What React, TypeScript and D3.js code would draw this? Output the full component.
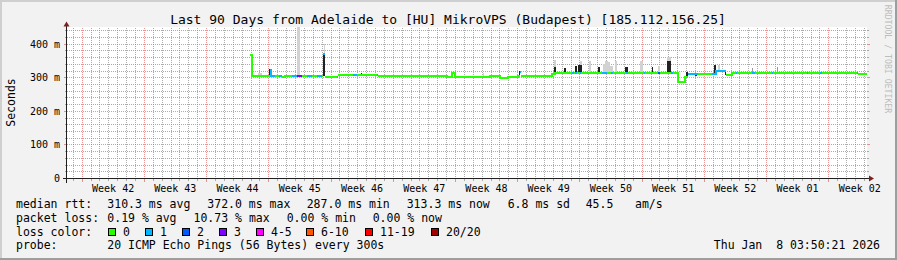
import React from 'react';
import * as d3 from 'd3';

// ---------- data ----------
const title = 'Last 90 Days from Adelaide to [HU] MikroVPS (Budapest) [185.112.156.25]';
const yAxisTitle = 'Seconds';
const watermark = 'RRDTOOL / TOBI OETIKER';
const spanDays = 90;
const yMax = 450;
const yTickValues = [0, 100, 200, 300, 400];
const yTickLabels = ['0', '100 m', '200 m', '300 m', '400 m'];
const firstWeekDay = 1.7; // days after graph start of first week boundary
const weekLabels = ['Week 42', 'Week 43', 'Week 44', 'Week 45', 'Week 46', 'Week 47', 'Week 48', 'Week 49', 'Week 50', 'Week 51', 'Week 52', 'Week 01', 'Week 02'];

// median rtt (ms) as step series: start day, value, loss band
const medianDay = [20.59, 20.81, 22.84, 22.95, 23.40, 23.85, 24.19, 24.53, 25.09, 25.31, 25.88, 26.44, 27.00, 27.56, 28.13, 28.69, 28.80, 29.03, 30.38, 30.49, 32.18, 32.63, 34.88, 34.99, 41.63, 42.75, 43.31, 43.65, 47.59, 48.71, 49.61, 50.74, 50.96, 51.08, 53.21, 54.56, 54.90, 56.81, 57.04, 57.15, 57.38, 57.71, 57.83, 60.19, 60.75, 61.20, 61.43, 62.89, 63.11, 64.90, 65.03, 66.49, 66.71, 67.95, 68.18, 68.74, 69.53, 69.86, 70.99, 72.56, 73.01, 74.14, 74.81, 75.26, 75.37, 77.06, 77.40, 79.31, 79.43, 83.25, 83.36, 84.71, 84.94, 88.88, 88.99];
const medianMs = [370, 306, 326, 307, 306, 306, 305, 308, 306, 306, 306, 306, 307, 307, 308, 306, 372, 304, 304, 311, 311, 311, 311, 306, 308, 303, 315, 305, 306, 301, 305, 308, 318, 308, 306, 313, 315, 315, 315, 316, 315, 315, 315, 315, 315, 315, 315, 316, 315, 316, 316, 316, 316, 316, 316, 288, 303, 313, 313, 313, 321, 311, 315, 315, 315, 315, 315, 315, 315, 315, 315, 315, 315, 315, 314];
const medianLoss = [0, 0, 1, 1, 0, 1, 0, 0, 0, 1, 3, 0, 1, 0, 1, 0, 1, 0, 1, 0, 1, 0, 1, 0, 0, 0, 0, 0, 0, 0, 0, 0, 1, 0, 0, 0, 0, 1, 0, 1, 0, 1, 0, 1, 0, 1, 0, 1, 0, 1, 0, 2, 0, 1, 0, 0, 0, 1, 0, 1, 1, 0, 0, 1, 0, 1, 0, 1, 0, 1, 0, 1, 0, 1, 0];

// smoke (ping spread): from day, to day, low ms, high ms, shade
const smokeFrom = [20.70, 21.49, 22.72, 25.88, 28.80, 28.91, 33.08, 46.80, 50.85, 54.79, 54.79, 55.91, 57.15, 57.49, 57.71, 57.71, 58.73, 59.74, 60.30, 60.53, 60.86, 61.09, 61.65, 62.78, 64.46, 65.81, 66.49, 67.50, 67.50, 68.63, 69.64, 70.65, 72.79, 73.24, 74.03, 77.06, 79.88];
const smokeTo = [20.81, 21.94, 22.84, 26.21, 29.03, 29.03, 33.19, 46.91, 50.96, 55.01, 55.01, 56.14, 57.38, 57.71, 57.94, 57.94, 58.95, 59.96, 60.53, 60.86, 61.09, 61.43, 61.88, 63.11, 64.80, 65.93, 66.71, 67.95, 67.95, 68.74, 69.86, 70.88, 73.01, 73.46, 74.14, 77.17, 79.99];
const smokeLo = [306, 306, 307, 306, 306, 372, 309, 306, 308, 315, 335, 315, 315, 315, 315, 340, 315, 315, 315, 315, 315, 315, 315, 315, 315, 315, 315, 315, 352, 288, 303, 306, 315, 322, 311, 315, 315];
const smokeHi = [370, 313, 326, 450, 372, 400, 313, 312, 318, 335, 352, 328, 335, 338, 340, 350, 350, 330, 340, 350, 345, 335, 348, 330, 348, 330, 335, 352, 362, 316, 316, 313, 338, 338, 321, 328, 332];
const smokeShade = ['d', 'l', 'd', 'l', 'd', 'l', 'd', 'l', 'd', 'd', 'l', 'd', 'd', 'd', 'd', 'l', 'l', 'd', 'l', 'l', 'l', 'l', 'l', 'd', 'l', 'd', 'l', 'd', 'l', 'd', 'd', 'd', 'd', 'l', 'd', 'm', 'm'];

const lossLabels = ['0', '1', '2', '3', '4-5', '6-10', '11-19', '20/20'];
const lossColors = ['#26ff00', '#00b8ff', '#0059ff', '#7e00ff', '#ff00ff', '#ff5500', '#ff0000', '#a10000'];

const rttTitle = 'median rtt:';
const rttStats = ['310.3 ms avg', '372.0 ms max', '287.0 ms min', '313.3 ms now', '6.8 ms sd', '45.5', 'am/s'];
const lossTitle = 'packet loss:';
const lossStats = ['0.19 % avg', '10.73 % max', '0.00 % min', '0.00 % now'];
const lossColorTitle = 'loss color:';
const probeTitle = 'probe:';
const probeText = '20 ICMP Echo Pings (56 Bytes) every 300s';
const stamp = 'Thu Jan  8 03:50:21 2026';

// ---------- layout ----------
const W = 897, H = 260;
const FONT = "'DejaVu Sans Mono', monospace";
const rttX = [107.3, 207.3, 306.7, 406.7, 507.7, 585.7, 635];
const lossX = [107.3, 193.5, 286.7, 372.7];
const boxX = [108, 145, 182, 219, 256, 306, 365, 431];
const rowY = [208.3, 222, 235.7, 249.4];
const shadeColor: Record<string, string> = { d: '#222222', m: '#9a9a9a', l: '#d2d2d2' };

export default function App() {
  const x = d3.scaleLinear().domain([0, spanDays]).range([67, 867]);
  const y = d3.scaleLinear().domain([0, yMax]).range([178.5, 27.5]);
  const px = (v: number) => Math.floor(v) + 0.5;
  const X0 = 66.5, X1 = 867, Y0 = 178.5, Y1 = 27.5;

  const minorH: number[] = [];
  for (let v = 20; v < yMax; v += 20) if (v % 100 !== 0) minorH.push(v);
  const majorH = yTickValues.filter(v => v > 0);

  const weekDays = weekLabels.map((_, i) => firstWeekDay + 7 * i);
  const dayLines: number[] = [];
  for (let k = -1; firstWeekDay + k < spanDays; k++) {
    const d = firstWeekDay + k;
    if (d <= 0) continue;
    if (((k % 7) + 7) % 7 === 0) continue;
    dayLines.push(d);
  }

  // median runs by loss band
  const runs: { loss: number; pts: [number, number][] }[] = [];
  let s = 0;
  const n = medianDay.length;
  for (let i = 1; i <= n; i++) {
    if (i === n || medianLoss[i] !== medianLoss[s]) {
      const pts: [number, number][] = [];
      for (let k = s; k < i; k++) pts.push([medianDay[k], medianMs[k]]);
      pts.push([i < n ? medianDay[i] : spanDays, medianMs[i - 1]]);
      runs.push({ loss: medianLoss[s], pts });
      s = i;
    }
  }
  const line = d3.line<[number, number]>()
    .x(d => Math.round(x(d[0])))
    .y(d => Math.floor(y(d[1])) + 0.5)
    .curve(d3.curveStepAfter);

  const gridMinor = 'rgba(143,143,143,0.75)';
  const gridMajor = 'rgba(222,79,79,0.6)';
  const pre = { xmlSpace: 'preserve' } as any;

  return (
    <svg width={W} height={H} style={{ position: 'absolute', left: 0, top: 0, display: 'block' }} fontFamily={FONT}>
      <rect x={0} y={0} width={W} height={H} fill="#f2f2f2" />
      {/* 3D border */}
      <rect x={0} y={0} width={W} height={2} fill="#cfcfcf" />
      <rect x={0} y={0} width={2} height={H} fill="#cfcfcf" />
      <rect x={0} y={H - 2} width={W} height={2} fill="#9e9e9e" />
      <rect x={W - 2} y={0} width={2} height={H} fill="#9e9e9e" />
      {/* canvas */}
      <rect x={67} y={27} width={800} height={152} fill="#ffffff" />

      {/* grid */}
      <g shapeRendering="crispEdges" strokeWidth={1}>
        {minorH.map(v => (
          <g key={'mh' + v}>
            <line x1={X0} x2={X1} y1={px(y(v))} y2={px(y(v))} stroke={gridMinor} strokeDasharray="1,1" />
            <line x1={X0 - 2} x2={X0} y1={px(y(v))} y2={px(y(v))} stroke={gridMinor} />
            <line x1={X1} x2={X1 + 2} y1={px(y(v))} y2={px(y(v))} stroke={gridMinor} />
          </g>
        ))}
        {dayLines.map(d => (
          <g key={'dv' + d}>
            <line x1={px(x(d))} x2={px(x(d))} y1={Y1} y2={Y0} stroke={gridMinor} strokeDasharray="1,1" />
            <line x1={px(x(d))} x2={px(x(d))} y1={Y0} y2={Y0 + 2} stroke={gridMinor} />
          </g>
        ))}
        {majorH.map(v => (
          <g key={'Mh' + v}>
            <line x1={X0} x2={X1} y1={px(y(v))} y2={px(y(v))} stroke={gridMajor} strokeDasharray="1,1" />
            <line x1={X0 - 3} x2={X0} y1={px(y(v))} y2={px(y(v))} stroke={gridMajor} />
            <line x1={X1} x2={X1 + 3} y1={px(y(v))} y2={px(y(v))} stroke={gridMajor} />
          </g>
        ))}
        {weekDays.map(d => (
          <g key={'wv' + d}>
            <line x1={px(x(d))} x2={px(x(d))} y1={Y1} y2={Y0} stroke={gridMajor} strokeDasharray="1,1" />
            <line x1={px(x(d))} x2={px(x(d))} y1={Y0} y2={Y0 + 3} stroke={gridMajor} />
          </g>
        ))}
      </g>

      {/* smoke */}
      <g shapeRendering="crispEdges">
        {smokeFrom.map((f, i) => {
          const x0 = Math.round(x(f));
          const x1 = Math.max(x0 + 1, Math.round(x(smokeTo[i])));
          const yt = Math.floor(y(smokeHi[i]));
          const yb = Math.floor(y(smokeLo[i])) + 1;
          return <rect key={'s' + i} x={x0} y={yt} width={x1 - x0} height={yb - yt} fill={shadeColor[smokeShade[i]]} />;
        })}
      </g>

      {/* median line */}
      <g fill="none" strokeWidth={2} shapeRendering="crispEdges">
        {runs.map((r, i) => (
          <path key={'r' + i} d={line(r.pts) || ''} stroke={lossColors[r.loss]} />
        ))}
      </g>

      {/* axes */}
      <g shapeRendering="crispEdges">
        <line x1={X0 - 4} x2={X1 + 4} y1={Y0} y2={Y0} stroke="#1f1f1f" />
        <line x1={X0} x2={X0} y1={Y0 + 4} y2={Y1 - 4} stroke="#1f1f1f" />
      </g>
      <path d={`M${X1 + 2},${Y0 - 3} L${X1 + 2},${Y0 + 3} L${X1 + 7},${Y0} Z`} fill="#801f1f" />
      <path d={`M${X0 - 3},${Y1 - 1} L${X0 + 3},${Y1 - 1} L${X0},${Y1 - 6} Z`} fill="#801f1f" />

      {/* axis labels */}
      <g fontSize={10} fill="#000">
        {yTickValues.map((v, i) => (
          <text key={'yl' + v} {...pre} x={60} y={px(y(v)) + 3.5} textAnchor="end">{yTickLabels[i]}</text>
        ))}
        {weekLabels.map((w, i) => (
          <text key={'wl' + w} {...pre} x={x(weekDays[i]) + 31} y={191.5} textAnchor="middle">{w}</text>
        ))}
      </g>

      <text {...pre} x={448} y={23.5} textAnchor="middle" fontSize={13} fill="#000">{title}</text>
      <text transform="translate(15,102.5) rotate(-90)" textAnchor="middle" fontSize={11.5} fill="#000">{yAxisTitle}</text>
      <text {...pre} transform="translate(884.5,59) rotate(90)" textAnchor="middle" fontSize={8.2} fill="#bdbdbd">{watermark}</text>

      {/* legend */}
      <g fontSize={11.5} fill="#000">
        <text {...pre} x={16} y={rowY[0]}>{rttTitle}</text>
        {rttStats.map((t, i) => <text key={'rs' + i} {...pre} x={rttX[i]} y={rowY[0]}>{t}</text>)}
        <text {...pre} x={16} y={rowY[1]}>{lossTitle}</text>
        {lossStats.map((t, i) => <text key={'ls' + i} {...pre} x={lossX[i]} y={rowY[1]}>{t}</text>)}
        <text {...pre} x={16} y={rowY[2]}>{lossColorTitle}</text>
        {lossLabels.map((t, i) => (
          <g key={'lc' + i}>
            <rect x={boxX[i] + 0.5} y={228.5} width={7} height={7} fill={lossColors[i]} stroke="#000" strokeWidth={1} shapeRendering="crispEdges" />
            <text {...pre} x={boxX[i] + 15} y={rowY[2]}>{t}</text>
          </g>
        ))}
        <text {...pre} x={16} y={rowY[3]}>{probeTitle}</text>
        <text {...pre} x={107.3} y={rowY[3]}>{probeText}</text>
        <text {...pre} x={880} y={rowY[3]} textAnchor="end">{stamp}</text>
      </g>
    </svg>
  );
}
